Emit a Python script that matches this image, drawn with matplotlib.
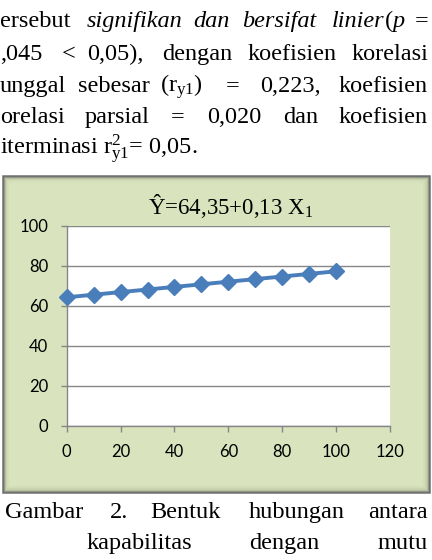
import matplotlib
matplotlib.use("Agg")
import matplotlib.pyplot as plt
from matplotlib.patches import Rectangle

plt.rcParams["mathtext.fontset"] = "custom"
plt.rcParams["mathtext.rm"] = "Liberation Serif"
plt.rcParams["mathtext.it"] = "Liberation Serif:italic"

# data
x_vals = [0, 10, 20, 30, 40, 50, 60, 70, 80, 90, 100]
y_vals = [64.35, 65.65, 66.95, 68.25, 69.55, 70.85, 72.15, 73.45, 74.75, 76.05, 77.35]
x_ticks = [0, 20, 40, 60, 80, 100, 120]
y_ticks = [0, 20, 40, 60, 80, 100]
title = "Ŷ=64,35+0,13 X$_1$"

# paragraph above the chart (word, left x px, italic), one list per line
para_lines = [
    (27, [("ersebut", 0, False), ("signifikan", 87, True), ("dan", 193, True),
          ("bersifat", 242, True), ("linier", 332, True), ("(", 385, False)]),
    (60, [(",045", 0, False), ("<", 62, False), ("0,05),", 87, False),
          ("dengan", 162, False), ("koefisien", 248, False), ("korelasi", None, False)]),
    (92, [("unggal", 0, False), ("sebesar", 78, False), ("(r$_{\\mathrm{y1}}$)", 160, False),
          ("=", 226, False), ("0,223,", 260, False), ("koefisien", None, False)]),
    (123, [("orelasi", 0, False), ("parsial", 85, False), ("=", 171, False),
           ("0,020", 207, False), ("dan", 283, False), ("koefisien", None, False)]),
    (154, [("iterminasi r$^{2}_{\\mathrm{y1}}$= 0,05.", 0, False)]),
]
caption_lines = [
    (518, [("Gambar", 5), ("2.", 110), ("Bentuk", 150), ("hubungan", 249), ("antara", None)]),
    (549, [("kapabilitas", 87), ("dengan", 249), ("mutu", None)]),
]

W, H = 432, 560
fig = plt.figure(figsize=(W / 100, H / 100), dpi=100)
fig.patch.set_facecolor("white")


def fx(px):
    return px / W


def fy(py):
    return 1 - py / H


serif = "Liberation Serif"
fs = 17.5

for base, words in para_lines:
    for w, x0, ital in words:
        style = "italic" if ital else "normal"
        if x0 is None:
            fig.text(fx(428), fy(base), w, ha="right", va="baseline", family=serif,
                     fontsize=fs, style=style)
        else:
            fig.text(fx(x0), fy(base), w, ha="left", va="baseline", family=serif,
                     fontsize=fs, style=style)
# "p=" after the bracket is italic p
fig.text(fx(392), fy(27), "p", ha="left", va="baseline", family=serif, fontsize=fs, style="italic")
fig.text(fx(428), fy(27), "=", ha="right", va="baseline", family=serif, fontsize=fs)

for base, words in caption_lines:
    for w, x0 in words:
        if x0 is None:
            fig.text(fx(428), fy(base), w, ha="right", va="baseline", family=serif, fontsize=fs)
        else:
            fig.text(fx(x0), fy(base), w, ha="left", va="baseline", family=serif, fontsize=fs)

# chart frame with a soft bevel
frame_l, frame_t, frame_r, frame_b = 3, 176, 429, 492
fig.patches.append(Rectangle((fx(frame_l), fy(frame_b)), fx(frame_r - frame_l),
                             (frame_b - frame_t) / H, transform=fig.transFigure,
                             facecolor="#d9e4be", edgecolor="#6f6f6f", lw=1.8, zorder=-2))
for i, (c, a) in enumerate([("#9aa386", 0.55), ("#b5bf9f", 0.45), ("#c9d3b0", 0.35)]):
    d = 1.5 + i * 1.6
    fig.patches.append(Rectangle((fx(frame_l + d), fy(frame_b - d)), fx(frame_r - frame_l - 2 * d),
                                 (frame_b - frame_t - 2 * d) / H, transform=fig.transFigure,
                                 facecolor="none", edgecolor=c, lw=1.6, alpha=a, zorder=-1))

ax = fig.add_axes([fx(66.7), fy(426), fx(390 - 66.7), (426 - 226) / H])
ax.set_zorder(2)
ax.set_facecolor("white")
ax.plot(x_vals, y_vals, color="#4a7ebb", lw=2.8, marker="D", ms=8.5,
        markerfacecolor="#4a7ebb", markeredgecolor="#4a7ebb", zorder=3, clip_on=False)
ax.set_xlim(0, 120)
ax.set_ylim(0, 100)
ax.set_xticks(x_ticks)
ax.set_yticks(y_ticks)
ax.grid(True, axis="y", color="#868686", lw=1.0)
ax.set_axisbelow(True)
for s in ["top", "right"]:
    ax.spines[s].set_visible(False)
for s in ["left", "bottom"]:
    ax.spines[s].set_color("#868686")
    ax.spines[s].set_linewidth(1.0)
ax.tick_params(axis="both", direction="out", color="#868686", length=4.3, width=1.0,
               labelsize=12, labelcolor="black")
ax.tick_params(axis="y", pad=9)
ax.tick_params(axis="x", pad=9)
for lab in ax.get_xticklabels() + ax.get_yticklabels():
    lab.set_family("Lato")

fig.text(fx(231), fy(214), title, ha="center", va="baseline", family=serif, fontsize=16.5,
         zorder=3)

fig.savefig("out.png", dpi=100)
